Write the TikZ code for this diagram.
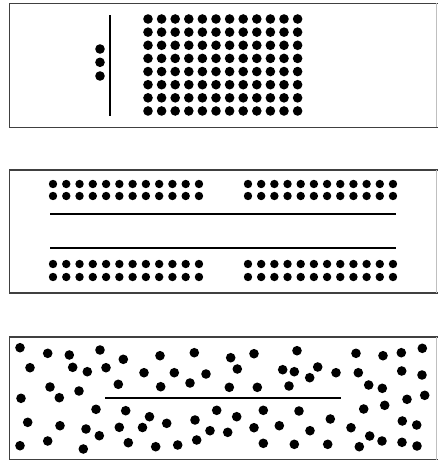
\documentclass[tikz,border=0pt]{standalone}
\usepackage{tikz}

\begin{document}
\begin{tikzpicture}[
    x=1pt,
    y=-1pt,
    frame/.style={draw=black!75, line width=1.1pt},
    bar/.style={draw=black, line width=2pt},
    bigdot/.style={fill=black},
    smalldot/.style={fill=black}
]
\useasboundingbox (0,0) rectangle (437,466);

% panel 1: column of dots behind a wall
\draw[frame] (437.5,3.3) -- (9.3,3.3) -- (9.3,127.3) -- (437.5,127.3);
\draw[black!25, line width=0.6pt] (436.4,3.3) -- (436.4,127.3);
\draw[bar] (110,15) -- (110,116);
\foreach \y in {49,62.3,76}
    \fill[bigdot] (100,\y) circle (4.8pt);
\foreach \i in {0,...,11}
    \foreach \j in {0,...,7}
        \fill[bigdot] (148+13.6*\i,19+13.14*\j) circle (4.8pt);

% panel 2: two walls with rows of dots outside
\draw[frame] (437.5,170) -- (9.3,170) -- (9.3,293) -- (437.5,293);
\draw[black!25, line width=0.6pt] (436.4,170) -- (436.4,293);
\draw[bar] (50,214.3) -- (396,214.3);
\draw[bar] (50,248.3) -- (396,248.3);
\foreach \y in {184,196,264,277} {
    \foreach \i in {0,...,11} {
        \fill[smalldot] (53+13.27*\i,\y) circle (4.2pt);
        \fill[smalldot] (248+13.18*\i,\y) circle (4.2pt);
    }
}

% panel 3: scattered dots around a wall
\draw[frame] (437.5,337) -- (9.3,337) -- (9.3,459.5) -- (437.5,459.5);
\draw[black!25, line width=0.6pt] (436.4,337) -- (436.4,459.5);
\draw[bar] (105,397.7) -- (341.3,397.7);
\foreach \x/\y in {
    20/347.7, 47.7/353.3, 69.3/355, 100/350, 123.3/359.3,
    30/367.7, 72.7/367.3, 87.3/371.7, 106/367.7, 144/372.7,
    50/387, 79/391, 118.3/384.3, 21/398.3, 59.3/397.7,
    96/409.3, 125.7/410.7, 149.5/416.7, 27.7/422.3, 60/425.7,
    86/429, 99.3/435.7, 119.3/427.3, 142.5/427.5, 20/445.7,
    47.7/441, 83.3/449, 128.3/442.7,
    160/355.7, 194.3/352.7, 230.7/357.7, 254/353.7, 174.3/372.7,
    206/374, 237.3/369, 282.7/369.7, 160.7/386.7, 190/383,
    229.3/387.3, 257.3/387.3, 289/386, 166.7/423.3, 195/420,
    216.7/410.3, 236.7/416.7, 263.3/410.3, 279.3/425.7, 210/430.7,
    227.7/432.3, 254/427.7, 155.7/446.7, 177.7/445, 196.7/440,
    263.3/443.3,
    297/350.7, 356/353.3, 383/355.7, 401.3/352.7, 422.3/348.3,
    294.3/371.7, 317.7/367, 309.7/377.7, 336/372.7, 358.3/372.7,
    401.7/371, 422/375, 368.7/385, 382.3/388.3, 299/411,
    330.3/419, 363.7/409, 384.7/405.3, 407/399.3, 424.7/395.3,
    310/430.7, 351/427.7, 369.7/436, 382/441, 402.3/421,
    416.7/425, 294.3/444.3, 327.7/444.3, 359.3/446.7, 402/442.3,
    417/446}
    \fill[bigdot] (\x,\y) circle (4.8pt);
\end{tikzpicture}
\end{document}
